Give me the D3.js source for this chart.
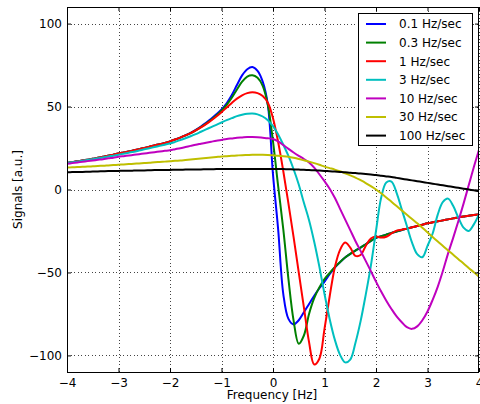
<!DOCTYPE html>
<html>
<head>
<meta charset="utf-8">
<script src="https://cdn.jsdelivr.net/npm/d3@7"></script>
<style>
  body { margin: 0; background: #fff; }
  svg { display: block; font-family: "DejaVu Sans", sans-serif; }
</style>
</head>
<body>
<div id="chart"></div>
<script>
// ---------- DATA ----------
// frequency grid (Hz), every 0.1 Hz
const FREQ = [
  -4.0, -3.9, -3.8, -3.7, -3.6, -3.5, -3.4, -3.3, -3.2, -3.1,
  -3.0, -2.9, -2.8, -2.7, -2.6, -2.5, -2.4, -2.3, -2.2, -2.1,
  -2.0, -1.9, -1.8, -1.7, -1.6, -1.5, -1.4, -1.3, -1.2, -1.1,
  -1.0, -0.9, -0.8, -0.7, -0.6, -0.5, -0.4, -0.3, -0.2, -0.1,
   0.0,  0.1,  0.2,  0.3,  0.4,  0.5,  0.6,  0.7,  0.8,  0.9,
   1.0,  1.1,  1.2,  1.3,  1.4,  1.5,  1.6,  1.7,  1.8,  1.9,
   2.0,  2.1,  2.2,  2.3,  2.4,  2.5,  2.6,  2.7,  2.8,  2.9,
   3.0,  3.1,  3.2,  3.3,  3.4,  3.5,  3.6,  3.7,  3.8,  3.9,
   4.0
];

const SIG_0_1 = [
  16.0, 16.5, 17.0, 17.5, 18.0, 18.5, 19.1, 19.7, 20.3, 21.0,
  21.7, 22.3, 22.9, 23.6, 24.3, 25.0, 25.8, 26.6, 27.3, 28.1,
  29.0, 30.1, 31.3, 32.7, 34.2, 36.0, 38.0, 40.2, 42.6, 45.3,
  48.3, 52.0, 57.0, 63.0, 68.8, 72.5, 73.8, 71.5, 65.0, 51.0,
  9.0, -24.0, -63.0, -78.0, -81.3, -78.8, -74.0, -69.0, -64.0, -59.5,
  -55.5, -51.0, -47.0, -43.8, -41.0, -38.8, -36.8, -35.0, -33.0, -31.0,
  -29.2, -28.2, -27.2, -26.2, -25.3, -24.4, -23.6, -22.8, -22.0, -21.2,
  -20.4, -19.8, -19.2, -18.6, -18.0, -17.4, -16.8, -16.3, -15.8, -15.4,
  -15.0
];

const SIG_0_3 = [
  16.0, 16.5, 17.0, 17.5, 18.0, 18.5, 19.1, 19.7, 20.3, 21.0,
  21.7, 22.3, 22.9, 23.6, 24.3, 25.0, 25.8, 26.6, 27.3, 28.1,
  29.0, 30.1, 31.3, 32.6, 34.0, 35.7, 37.6, 39.7, 42.0, 44.6,
  47.5, 51.0, 55.3, 60.3, 65.0, 68.0, 68.8, 67.3, 62.5, 51.0,
  29.0, 2.0, -24.0, -54.0, -79.0, -93.0, -88.0, -75.0, -65.5, -59.0,
  -54.0, -50.3, -46.8, -43.8, -41.0, -38.8, -36.8, -35.0, -33.0, -31.0,
  -29.2, -28.2, -27.2, -26.2, -25.3, -24.4, -23.6, -22.8, -22.0, -21.2,
  -20.4, -19.8, -19.2, -18.6, -18.0, -17.4, -16.8, -16.3, -15.8, -15.4,
  -15.0
];

const SIG_1 = [
  16.0, 16.5, 17.0, 17.5, 18.0, 18.5, 19.1, 19.7, 20.3, 21.0,
  21.7, 22.3, 22.9, 23.6, 24.3, 25.0, 25.8, 26.6, 27.3, 28.1,
  29.0, 30.1, 31.3, 32.6, 34.0, 35.6, 37.4, 39.4, 41.6, 44.0,
  46.6, 49.4, 52.2, 54.8, 56.8, 58.1, 58.6, 58.1, 56.3, 52.3,
  43.0, 28.6, 11.0, -8.5, -28.7, -50.0, -71.0, -92.0, -105.5, -102.0,
  -84.0, -64.5, -47.0, -36.5, -32.0, -35.0, -40.0, -39.5, -34.0, -29.5,
  -28.3, -29.0, -28.5, -26.5, -24.8, -24.2, -23.6, -22.8, -22.0, -21.2,
  -20.4, -19.8, -19.2, -18.6, -18.0, -17.4, -16.8, -16.3, -15.8, -15.4,
  -15.0
];

const SIG_3 = [
  16.0, 16.4, 16.9, 17.3, 17.8, 18.3, 18.8, 19.3, 19.9, 20.4,
  21.0, 21.6, 22.2, 22.8, 23.5, 24.2, 24.9, 25.6, 26.3, 27.0,
  27.7, 28.7, 29.8, 30.9, 32.1, 33.4, 34.8, 36.2, 37.6, 39.0,
  40.4, 41.8, 43.0, 44.2, 45.0, 45.6, 45.8, 45.3, 44.0, 41.8,
  38.2, 33.2, 27.0, 20.2, 12.2, 3.0, -8.0, -18.5, -31.5, -46.5,
  -63.0, -78.0, -90.5, -99.5, -104.2, -102.5, -92.5, -79.5, -63.5, -46.0,
  -25.0, -5.0, 4.2, 4.8, -2.0, -12.0, -22.0, -32.0, -39.0, -40.8,
  -34.0, -26.5, -15.0, -7.5, -5.5, -10.0, -17.0, -23.0, -25.0, -21.0,
  -15.0
];

const SIG_10 = [
  15.5, 15.9, 16.3, 16.7, 17.1, 17.5, 17.9, 18.3, 18.8, 19.2,
  19.7, 20.1, 20.5, 20.9, 21.3, 21.7, 22.1, 22.5, 22.9, 23.3,
  23.7, 24.3, 24.9, 25.6, 26.3, 27.0, 27.6, 28.2, 28.8, 29.4,
  29.9, 30.4, 30.8, 31.2, 31.4, 31.6, 31.6, 31.5, 31.2, 30.9,
  30.4, 29.0, 26.8, 24.5, 22.3, 20.3, 18.4, 16.3, 13.2, 9.2,
  5.0, 0.5, -5.0, -11.5, -18.0, -24.5, -31.0, -37.0, -43.0, -49.2,
  -55.5, -61.5, -67.0, -72.0, -76.5, -80.0, -83.0, -84.0, -82.5, -78.8,
  -73.5, -66.5, -58.5, -49.0, -38.5, -29.0, -19.0, -8.5, 2.5, 13.5,
  24.0
];

const SIG_30 = [
  13.2, 13.4, 13.5, 13.7, 13.8, 14.0, 14.2, 14.3, 14.5, 14.7,
  14.9, 15.1, 15.3, 15.5, 15.7, 15.9, 16.1, 16.4, 16.6, 16.8,
  17.0, 17.3, 17.5, 17.8, 18.1, 18.4, 18.7, 19.0, 19.3, 19.6,
  19.9, 20.1, 20.3, 20.5, 20.7, 20.8, 20.9, 20.9, 20.9, 20.8,
  20.6, 20.4, 20.1, 19.7, 19.1, 18.4, 17.6, 16.8, 15.9, 14.9,
  13.8, 12.9, 12.0, 11.0, 9.8, 8.5, 7.2, 5.6, 3.9, 2.0,
  0.0, -2.3, -4.8, -7.4, -10.0, -12.6, -15.2, -17.8, -20.4, -23.0,
  -25.8, -28.7, -31.4, -34.0, -36.7, -39.3, -42.0, -44.6, -47.3, -49.9,
  -52.6
];

const SIG_100 = [
  10.4, 10.5, 10.6, 10.6, 10.7, 10.8, 10.9, 11.0, 11.1, 11.1,
  11.2, 11.3, 11.3, 11.4, 11.5, 11.5, 11.6, 11.7, 11.7, 11.8,
  11.8, 11.9, 11.9, 12.0, 12.0, 12.1, 12.1, 12.2, 12.2, 12.3,
  12.3, 12.3, 12.4, 12.4, 12.4, 12.4, 12.4, 12.4, 12.4, 12.4,
  12.4, 12.4, 12.3, 12.2, 12.1, 12.0, 11.9, 11.7, 11.6, 11.4,
  11.2, 11.0, 10.8, 10.6, 10.4, 10.1, 9.9, 9.6, 9.3, 9.0,
  8.7, 8.3, 7.9, 7.5, 7.0, 6.5, 6.0, 5.5, 5.0, 4.5,
  4.0, 3.5, 3.0, 2.5, 2.0, 1.5, 1.0, 0.5, 0.0, -0.5,
  -1.0
];

const LABELS = ["0.1 Hz/sec", "0.3 Hz/sec", "1 Hz/sec", "3 Hz/sec", "10 Hz/sec", "30 Hz/sec", "100 Hz/sec"];
const SERIES = [SIG_0_1, SIG_0_3, SIG_1, SIG_3, SIG_10, SIG_30, SIG_100];
const X_TICKS = [-4, -3, -2, -1, 0, 1, 2, 3, 4];
const Y_TICKS = [-100, -50, 0, 50, 100];

// matplotlib classic colours b g r c m y k
const COLORS = ["#0000ff", "#008000", "#ff0000", "#00bfbf", "#bf00bf", "#bfbf00", "#000000"];

// ---------- SCAFFOLD ----------
const width = 480, height = 404;
const plot = { left: 67, top: 7, right: 479, bottom: 372 };

const svg = d3.select("#chart").append("svg")
  .attr("width", width)
  .attr("height", height);

const x = d3.scaleLinear().domain([-4, 4]).range([plot.left, plot.right]);
const y = d3.scaleLinear().domain([-110, 110]).range([plot.bottom, plot.top]);

const fmt = d => d < 0 ? "\u2212" + Math.abs(d) : String(d);

svg.append("clipPath").attr("id", "clip")
  .append("rect")
  .attr("x", plot.left).attr("y", plot.top)
  .attr("width", plot.right - plot.left).attr("height", plot.bottom - plot.top);

// dotted grid
const grid = svg.append("g").attr("stroke", "#444").attr("stroke-width", 1)
  .attr("stroke-dasharray", "1,2.5").attr("shape-rendering", "crispEdges");
grid.selectAll(".gx").data(X_TICKS).join("line")
  .attr("x1", d => Math.round(x(d)) + 0.5).attr("x2", d => Math.round(x(d)) + 0.5)
  .attr("y1", plot.top).attr("y2", plot.bottom);
grid.selectAll(".gy").data(Y_TICKS).join("line")
  .attr("y1", d => Math.round(y(d)) + 0.5).attr("y2", d => Math.round(y(d)) + 0.5)
  .attr("x1", plot.left).attr("x2", plot.right);

// curves
const line = d3.line()
  .x((d, i) => x(FREQ[i]))
  .y(d => y(d))
  .curve(d3.curveCatmullRom.alpha(0.5));

svg.append("g").attr("clip-path", "url(#clip)")
  .selectAll("path")
  .data(SERIES)
  .join("path")
  .attr("fill", "none")
  .attr("stroke", (d, i) => COLORS[i])
  .attr("stroke-width", 2)
  .attr("stroke-linejoin", "round")
  .attr("d", line);

// axes, ticks pointing inward
const axB = svg.append("g").attr("transform", `translate(0,${plot.bottom})`)
  .call(d3.axisBottom(x).tickValues(X_TICKS).tickSize(-4).tickPadding(6).tickFormat(fmt));
const axT = svg.append("g").attr("transform", `translate(0,${plot.top})`)
  .call(d3.axisTop(x).tickValues(X_TICKS).tickSize(-4).tickFormat(""));
const axL = svg.append("g").attr("transform", `translate(${plot.left},0)`)
  .call(d3.axisLeft(y).tickValues(Y_TICKS).tickSize(-4).tickPadding(5).tickFormat(fmt));
const axR = svg.append("g").attr("transform", `translate(${plot.right},0)`)
  .call(d3.axisRight(y).tickValues(Y_TICKS).tickSize(-4).tickFormat(""));

[axB, axT, axL, axR].forEach(a => {
  a.select(".domain").remove();
  a.selectAll("line").attr("stroke", "#000");
  a.selectAll("text").attr("fill", "#000")
    .style("font-size", "12px").style("font-family", "DejaVu Sans, sans-serif");
});

// frame
svg.append("rect")
  .attr("x", plot.left + 0.5).attr("y", plot.top + 0.5)
  .attr("width", plot.right - plot.left - 1).attr("height", plot.bottom - plot.top)
  .attr("fill", "none").attr("stroke", "#000").attr("stroke-width", 1);

// axis labels
svg.append("text")
  .attr("x", (plot.left + plot.right) / 2 - 1).attr("y", 399)
  .attr("text-anchor", "middle").style("font-size", "12px")
  .text("Frequency [Hz]");

svg.append("text")
  .attr("transform", `translate(22,${(plot.top + plot.bottom) / 2}) rotate(-90)`)
  .attr("text-anchor", "middle").style("font-size", "12px")
  .text("Signals [a.u.]");

// legend
const legend = svg.append("g");
legend.append("rect")
  .attr("x", 358.5).attr("y", 13.5).attr("width", 114).attr("height", 132)
  .attr("fill", "#fff").attr("stroke", "#000").attr("stroke-width", 1);

const rows = legend.selectAll(".row").data(LABELS).join("g")
  .attr("transform", (d, i) => `translate(0,${24 + i * 18.6})`);
rows.append("line")
  .attr("x1", 366).attr("x2", 386)
  .attr("stroke", (d, i) => COLORS[i]).attr("stroke-width", 2);
rows.append("text")
  .attr("x", 399).attr("dy", "0.36em")
  .style("font-size", "12px")
  .text(d => d);
</script>
</body>
</html>
